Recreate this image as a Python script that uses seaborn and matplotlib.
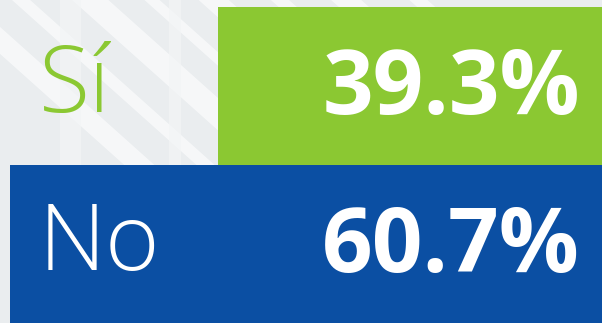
import matplotlib
matplotlib.use("Agg")
import matplotlib.pyplot as plt
from matplotlib.patches import Polygon
import seaborn as sns

# Respuestas y porcentajes
categorias = ["Sí", "No"]
porcentajes = [39.3, 60.7]
etiquetas_valor = ["39.3%", "60.7%"]
colores = ["#8bc832", "#0b4fa3"]

sns.set_theme(style="white")

W, H = 602, 323
fig = plt.figure(figsize=(W / 100, H / 100), dpi=100)
fig.patch.set_facecolor("#eaedef")

# Soft diagonal streaks on the light background (behind the axes)
bandas = [(-0.10, 0.05), (0.02, 0.03), (0.12, 0.06), (0.24, 0.025),
          (0.33, 0.05), (0.45, 0.03), (0.55, 0.05), (0.68, 0.03)]
for x0, w in bandas:
    fig.patches.append(Polygon([[x0, 1.0], [x0 + w, 1.0], [x0 + w + 0.6, 0.0], [x0 + 0.6, 0.0]],
                               closed=True, transform=fig.transFigure,
                               facecolor="#f8f9fa", edgecolor="none", alpha=0.9, zorder=-10))
for xv, w in [(0.10, 0.035), (0.28, 0.02)]:
    fig.patches.append(Polygon([[xv, 0], [xv + w, 0], [xv + w, 1], [xv, 1]], closed=True,
                               transform=fig.transFigure, facecolor="#f3f5f6",
                               edgecolor="none", alpha=0.7, zorder=-10))

ax = fig.add_axes([0, 0, 1, 1])
ax.set_facecolor("none")
ax.set_zorder(1)

sns.barplot(x=porcentajes, y=categorias, hue=categorias, palette=colores,
            orient="h", width=1.0, saturation=1, legend=False,
            linewidth=0, ax=ax)

# Bars grow leftwards from the right edge
px_por_unidad = 9.76
ax.set_xlim(W / px_por_unidad, 0)
ax.set_ylim(1.5, -0.5 - 7 / 158)

ax.set_axis_off()

x_etiqueta = (W - 39) / px_por_unidad
x_valor = (W - 580) / px_por_unidad
color_etiqueta = [colores[0], "white"]
for i, (cat, txt) in enumerate(zip(categorias, etiquetas_valor)):
    ax.text(x_etiqueta, i + 0.165, cat, ha="left", va="baseline",
            fontsize=67, fontweight="light", family=["Open Sans", "DejaVu Sans"],
            color=color_etiqueta[i])
    ax.text(x_valor, i + 0.175, txt, ha="right", va="baseline",
            fontsize=64, fontweight="bold", family=["Open Sans", "DejaVu Sans"],
            color="white")

fig.savefig("out.png", dpi=100, facecolor=fig.get_facecolor())
